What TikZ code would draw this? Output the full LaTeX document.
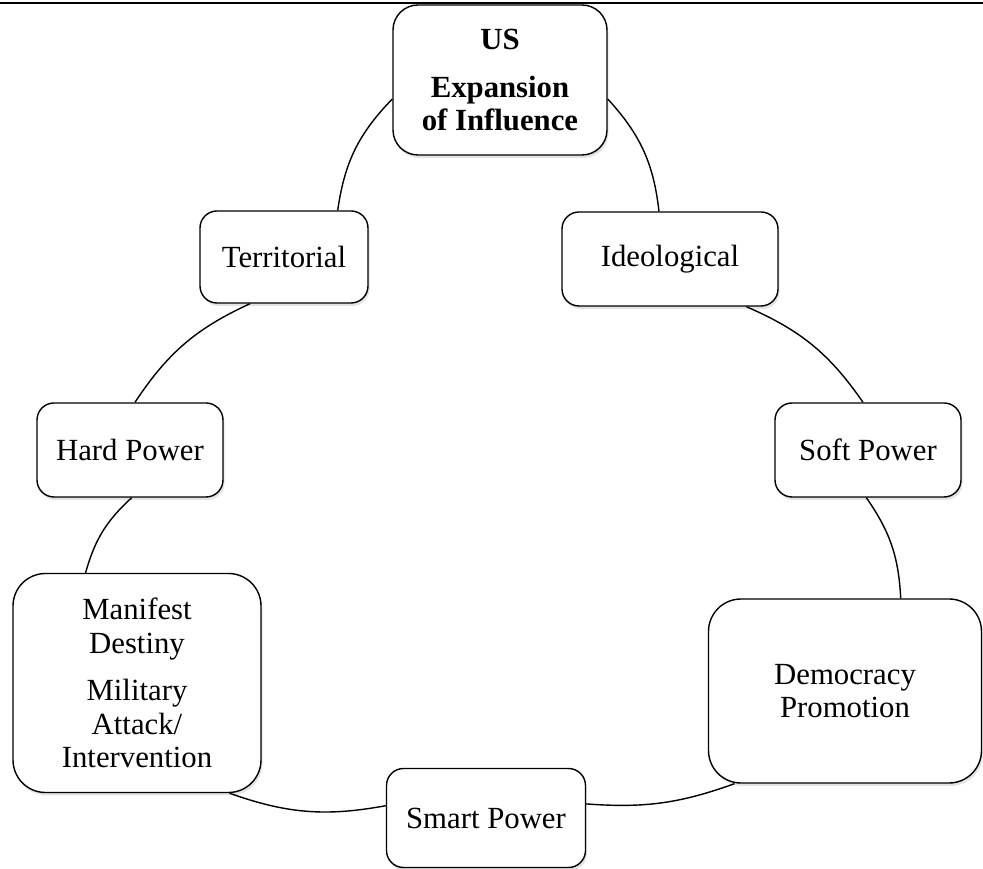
\documentclass[tikz,border=0pt]{standalone}
\usepackage{fontspec}
\setmainfont{Liberation Serif}
\usepackage{tikz}
\usetikzlibrary{shadows}

\tikzset{
    cyclebox/.style={rectangle, draw, line width=0.8pt, rounded corners=0.34cm, fill=white,
        align=center, inner sep=2pt, font=\fontsize{17.5}{19}\selectfont,
        drop shadow={opacity=0.22, shadow xshift=0.03cm, shadow yshift=-0.06cm}},
}

\begin{document}
\begin{tikzpicture}[line width=0.8pt]
        \useasboundingbox (0, 0) rectangle (19.66, 17.38);

        % rule at the top of the page
        \coordinate (ruleL) at (0, 17.32);
        \coordinate (ruleR) at (19.66, 17.32);
        \draw[line width=1.1pt] (ruleL) -- (ruleR);

        \node[cyclebox, rounded corners=0.5cm, minimum width=4.28cm, minimum height=3cm, font=\fontsize{17.5}{18.5}\selectfont\bfseries] at (10.0, 15.78) (US) {US\\[9pt] Expansion\\ of Influence};
        \node[cyclebox, minimum width=3.36cm, minimum height=1.84cm] at (5.68, 12.24) (terr) {Territorial};
        \node[cyclebox, minimum width=4.32cm, minimum height=1.88cm] at (13.4, 12.2) (ideo) {Ideological};
        \node[cyclebox, minimum width=3.72cm, minimum height=1.88cm] at (2.6, 8.38) (hard) {Hard Power};
        \node[cyclebox, minimum width=3.72cm, minimum height=1.88cm] at (17.36, 8.38) (soft) {Soft Power};
        \node[cyclebox, rounded corners=0.65cm, minimum width=4.96cm, minimum height=4.38cm] at (2.74, 3.72) (manifest) {Manifest\\ Destiny\\[8pt] Military\\ Attack/\\ Intervention};
        \node[cyclebox, rounded corners=0.65cm, minimum width=5.46cm, minimum height=3.68cm] at (16.9, 3.56) (demo) {Democracy\\ Promotion};
        \node[cyclebox, minimum width=3.98cm, minimum height=1.98cm] at (9.72, 1.02) (smart) {Smart Power};

        \draw (US.-10) edge[bend left=18] (ideo.103);
        \draw (ideo.-32) edge[bend left=16] (soft.96);
        \draw (soft.-92) edge[bend left=16] (demo.59);
        \draw (demo.220) edge[bend left=12] (smart.8);
        \draw (smart.173) edge[bend left=15] (manifest.-50);
        \draw (manifest.115) edge[bend left=16] (hard.-88);
        \draw (hard.84) edge[bend left=16] (terr.234);
        \draw (terr.41) edge[bend left=18] (US.190);
    \end{tikzpicture}
\end{document}
